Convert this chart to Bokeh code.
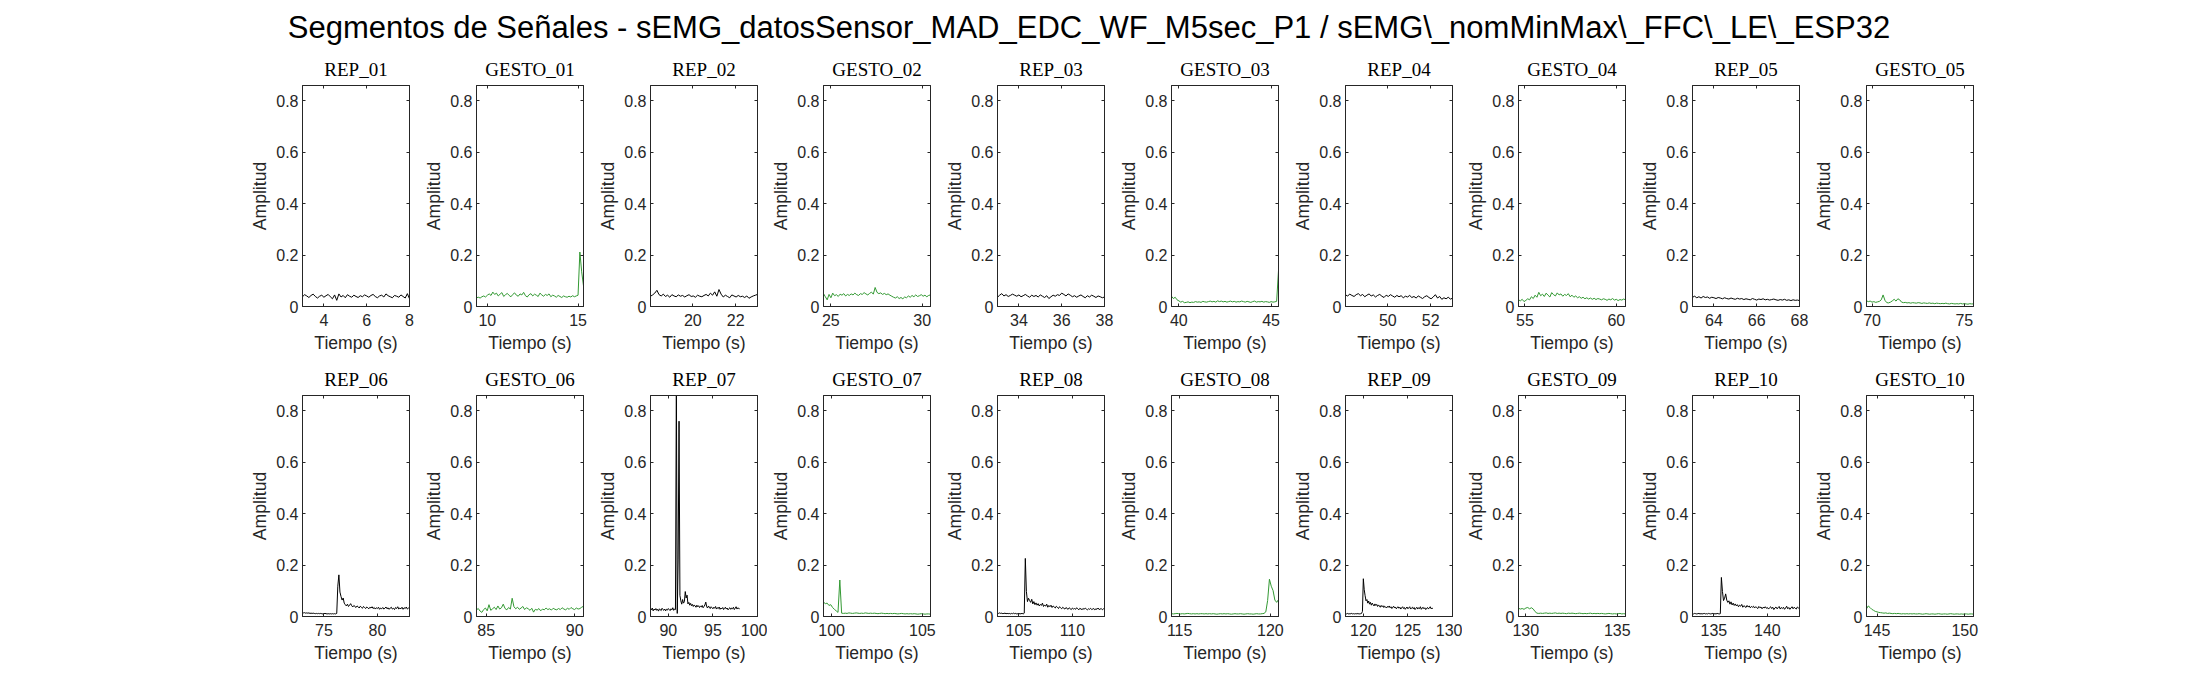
import numpy as np
from bokeh.plotting import figure
from bokeh.layouts import gridplot, column, row
from bokeh.models import (Div, Spacer, Range1d, FixedTicker, LinearAxis,
                          CustomJSTickFormatter)
from bokeh.embed import file_html
from bokeh.resources import INLINE

TITLE = ("Segmentos de Señales - sEMG_datosSensor_MAD_EDC_WF_M5sec_P1 / "
         "sEMG\\_nomMinMax\\_FFC\\_LE\\_ESP32")

# panel order: row 1 then row 2
names = ["REP_01", "GESTO_01", "REP_02", "GESTO_02", "REP_03", "GESTO_03",
         "REP_04", "GESTO_04", "REP_05", "GESTO_05",
         "REP_06", "GESTO_06", "REP_07", "GESTO_07", "REP_08", "GESTO_08",
         "REP_09", "GESTO_09", "REP_10", "GESTO_10"]

x_lo = [3.0, 9.4, 18.02, 24.6, 33.0, 39.6, 48.02, 54.65, 63.0, 69.7,
        73.0, 84.45, 88.0, 99.55, 103.0, 114.55, 118.0, 129.6, 133.0, 144.4]
x_hi = [8.0, 15.3, 23.02, 30.45, 38.0, 45.4, 53.02, 60.5, 68.0, 75.5,
        83.0, 90.5, 100.0, 105.45, 113.0, 120.45, 130.0, 135.45, 143.0, 150.5]

# time span covered by each signal segment (s)
t_start = [3.0, 9.4, 18.02, 24.6, 33.0, 39.6, 48.02, 54.65, 63.0, 69.7,
           73.0, 84.45, 88.0, 99.55, 103.0, 114.55, 118.0, 129.6, 133.0, 144.4]
t_end = [8.0, 15.3, 23.02, 30.45, 38.0, 45.4, 53.02, 60.5, 68.0, 75.5,
         83.0, 90.5, 98.0, 105.45, 113.0, 120.45, 127.8, 135.45, 143.0, 150.5]

x_ticks = [[4, 6, 8], [10, 15], [20, 22], [25, 30], [34, 36, 38], [40, 45],
           [50, 52], [55, 60], [64, 66, 68], [70, 75],
           [75, 80], [85, 90], [90, 95, 100], [100, 105], [105, 110],
           [115, 120], [120, 125, 130], [130, 135], [135, 140], [145, 150]]

y_ticks = [0, 0.2, 0.4, 0.6, 0.8]

rep_01 = [0.038, 0.046, 0.041, 0.035, 0.043, 0.048, 0.039, 0.033, 0.040, 0.044,
          0.036, 0.042, 0.047, 0.038, 0.030, 0.045, 0.024, 0.049, 0.037, 0.043,
          0.034, 0.046, 0.040, 0.036, 0.044, 0.039, 0.035, 0.042, 0.038, 0.045,
          0.041, 0.036, 0.043, 0.047, 0.039, 0.034, 0.041, 0.044, 0.037, 0.049,
          0.042, 0.038, 0.034, 0.043, 0.040, 0.036, 0.045, 0.039, 0.033, 0.050,
          0.030]
gesto_01 = [0.034, 0.036, 0.033, 0.038, 0.041, 0.037, 0.044, 0.049, 0.043, 0.056,
            0.047, 0.052, 0.041, 0.048, 0.054, 0.039, 0.046, 0.051, 0.043, 0.038,
            0.047, 0.053, 0.044, 0.040, 0.049, 0.045, 0.055, 0.042, 0.037, 0.046,
            0.050, 0.041, 0.048, 0.044, 0.039, 0.052, 0.045, 0.040, 0.047, 0.043,
            0.049, 0.038, 0.044, 0.041, 0.036, 0.043, 0.039, 0.035, 0.041, 0.038,
            0.036, 0.040, 0.037, 0.042, 0.038, 0.041, 0.044, 0.212, 0.135, 0.080]
rep_02 = [0.040, 0.045, 0.052, 0.063, 0.046, 0.041, 0.048, 0.039, 0.044, 0.036,
          0.046, 0.041, 0.038, 0.045, 0.040, 0.043, 0.037, 0.042, 0.046, 0.039,
          0.041, 0.036, 0.044, 0.040, 0.038, 0.043, 0.047, 0.041, 0.052, 0.044,
          0.057, 0.040, 0.066, 0.048, 0.037, 0.044, 0.039, 0.034, 0.045, 0.041,
          0.037, 0.043, 0.038, 0.040, 0.035, 0.041, 0.032, 0.037, 0.041, 0.044,
          0.047]
gesto_02 = [0.050, 0.038, 0.026, 0.047, 0.034, 0.052, 0.042, 0.046, 0.039, 0.048,
            0.044, 0.050, 0.041, 0.047, 0.043, 0.049, 0.045, 0.052, 0.046, 0.043,
            0.050, 0.047, 0.054, 0.049, 0.045, 0.051, 0.056, 0.048, 0.074, 0.055,
            0.050, 0.053, 0.047, 0.051, 0.046, 0.049, 0.044, 0.040, 0.036, 0.033,
            0.038, 0.031, 0.035, 0.030, 0.037, 0.034, 0.041, 0.036, 0.043, 0.038,
            0.045, 0.039, 0.042, 0.046, 0.040, 0.044, 0.038, 0.043, 0.045]
rep_03 = [0.036, 0.044, 0.050, 0.041, 0.046, 0.039, 0.043, 0.048, 0.044, 0.040,
          0.045, 0.038, 0.042, 0.047, 0.041, 0.036, 0.044, 0.039, 0.043, 0.037,
          0.045, 0.040, 0.035, 0.042, 0.031, 0.038, 0.044, 0.040, 0.046, 0.043,
          0.052, 0.047, 0.041, 0.049, 0.044, 0.038, 0.042, 0.036, 0.041, 0.045,
          0.039, 0.034, 0.042, 0.037, 0.044, 0.040, 0.035, 0.041, 0.038, 0.034,
          0.037]
gesto_03 = [0.040, 0.031, 0.036, 0.026, 0.022, 0.017, 0.020, 0.015, 0.016, 0.018,
            0.015, 0.017, 0.016, 0.019, 0.017, 0.018, 0.016, 0.020, 0.018, 0.017,
            0.019, 0.021, 0.018, 0.020, 0.017, 0.022, 0.019, 0.021, 0.018, 0.020,
            0.017, 0.019, 0.021, 0.018, 0.020, 0.017, 0.019, 0.018, 0.021, 0.019,
            0.017, 0.020, 0.018, 0.016, 0.019, 0.021, 0.017, 0.019, 0.018, 0.020,
            0.017, 0.019, 0.018, 0.016, 0.019, 0.017, 0.018, 0.020, 0.140]
rep_04 = [0.045, 0.041, 0.048, 0.043, 0.039, 0.046, 0.050, 0.042, 0.047, 0.038,
          0.044, 0.049, 0.041, 0.045, 0.037, 0.043, 0.047, 0.040, 0.035, 0.044,
          0.039, 0.046, 0.041, 0.036, 0.043, 0.038, 0.042, 0.034, 0.040, 0.037,
          0.043, 0.035, 0.039, 0.033, 0.041, 0.036, 0.031, 0.038, 0.042, 0.035,
          0.030, 0.037, 0.046, 0.033, 0.039, 0.028, 0.034, 0.030, 0.036, 0.029,
          0.032]
gesto_04 = [0.026, 0.022, 0.028, 0.019, 0.024, 0.030, 0.026, 0.038, 0.031, 0.044,
            0.036, 0.055, 0.042, 0.048, 0.039, 0.052, 0.044, 0.037, 0.054, 0.046,
            0.041, 0.053, 0.045, 0.049, 0.040, 0.047, 0.043, 0.050, 0.038, 0.044,
            0.036, 0.041, 0.034, 0.038, 0.032, 0.036, 0.030, 0.034, 0.029, 0.033,
            0.028, 0.032, 0.027, 0.031, 0.029, 0.026, 0.030, 0.028, 0.024, 0.029,
            0.026, 0.031, 0.025, 0.028, 0.023, 0.027, 0.025, 0.029, 0.026]
rep_05 = [0.036, 0.040, 0.034, 0.038, 0.033, 0.039, 0.035, 0.037, 0.032, 0.036,
          0.034, 0.031, 0.035, 0.033, 0.030, 0.034, 0.031, 0.029, 0.033, 0.030,
          0.028, 0.032, 0.029, 0.031, 0.027, 0.030, 0.028, 0.026, 0.031, 0.028,
          0.025, 0.029, 0.027, 0.030, 0.026, 0.028, 0.025, 0.027, 0.029, 0.026,
          0.024, 0.027, 0.025, 0.028, 0.024, 0.026, 0.023, 0.026, 0.024, 0.025,
          0.023]
gesto_05 = [0.022, 0.019, 0.021, 0.017, 0.019, 0.016, 0.018, 0.020, 0.026, 0.045,
            0.024, 0.015, 0.014, 0.017, 0.022, 0.028, 0.021, 0.030, 0.026, 0.017,
            0.015, 0.016, 0.014, 0.015, 0.013, 0.015, 0.014, 0.013, 0.015, 0.014,
            0.012, 0.014, 0.013, 0.012, 0.014, 0.012, 0.013, 0.011, 0.013, 0.012,
            0.011, 0.012, 0.011, 0.013, 0.011, 0.010, 0.012, 0.011, 0.010, 0.011,
            0.010, 0.012, 0.010, 0.011, 0.010, 0.009, 0.011, 0.010, 0.010]
rep_06 = [0.015, 0.014, 0.015, 0.013, 0.014, 0.013, 0.014, 0.012, 0.013, 0.012,
          0.013, 0.012, 0.011, 0.012, 0.011, 0.012, 0.011, 0.012, 0.011, 0.010,
          0.011, 0.012, 0.011, 0.010, 0.011, 0.010, 0.011, 0.010, 0.011, 0.010,
          0.011, 0.010, 0.012, 0.118, 0.162, 0.095, 0.078, 0.064, 0.072, 0.052,
          0.046, 0.041, 0.048, 0.039, 0.044, 0.050, 0.042, 0.037, 0.043, 0.039,
          0.035, 0.041, 0.038, 0.033, 0.040, 0.036, 0.032, 0.039, 0.035, 0.031,
          0.037, 0.034, 0.030, 0.036, 0.033, 0.038, 0.031, 0.035, 0.029, 0.034,
          0.031, 0.036, 0.028, 0.033, 0.030, 0.035, 0.029, 0.032, 0.037, 0.030,
          0.034, 0.028, 0.033, 0.036, 0.029, 0.032, 0.027, 0.035, 0.031, 0.038,
          0.029, 0.033, 0.030, 0.036, 0.028, 0.034, 0.031, 0.037, 0.029, 0.033,
          0.030]
gesto_06 = [0.026, 0.031, 0.021, 0.016, 0.027, 0.033, 0.022, 0.046, 0.024, 0.030,
            0.036, 0.027, 0.041, 0.029, 0.034, 0.048, 0.031, 0.026, 0.035, 0.029,
            0.071, 0.038, 0.030, 0.036, 0.028, 0.033, 0.039, 0.027, 0.034, 0.030,
            0.024, 0.032, 0.017, 0.028, 0.025, 0.031, 0.022, 0.029, 0.026, 0.033,
            0.027, 0.030, 0.025, 0.032, 0.028, 0.026, 0.031, 0.027, 0.034, 0.029,
            0.026, 0.032, 0.028, 0.035, 0.030, 0.027, 0.033, 0.029, 0.031, 0.036,
            0.040]
rep_07 = [0.030, 0.026, 0.033, 0.022, 0.029, 0.025, 0.031, 0.024, 0.028, 0.021,
          0.030, 0.026, 0.023, 0.032, 0.027, 0.024, 0.029, 0.022, 0.028, 0.025,
          0.031, 0.027, 0.023, 0.030, 0.026, 0.034, 0.024, 0.029, 0.027, 0.920,
          0.012, 0.220, 0.760, 0.082, 0.061, 0.048, 0.066, 0.052, 0.058, 0.097,
          0.072, 0.083, 0.049, 0.055, 0.044, 0.051, 0.042, 0.047, 0.039, 0.045,
          0.041, 0.036, 0.044, 0.038, 0.042, 0.035, 0.040, 0.037, 0.043, 0.034,
          0.039, 0.045, 0.056, 0.038, 0.033, 0.041, 0.036, 0.031, 0.038, 0.034,
          0.030, 0.036, 0.032, 0.039, 0.029, 0.034, 0.031, 0.037, 0.028, 0.033,
          0.030, 0.035, 0.027, 0.032, 0.036, 0.029, 0.033, 0.026, 0.031, 0.034,
          0.028, 0.033, 0.030, 0.036, 0.027, 0.032, 0.038, 0.029, 0.034, 0.031,
          0.030]
gesto_07 = [0.056, 0.050, 0.052, 0.043, 0.046, 0.035, 0.028, 0.022, 0.016, 0.142,
            0.013, 0.012, 0.013, 0.012, 0.014, 0.013, 0.012, 0.013, 0.014, 0.013,
            0.012, 0.013, 0.012, 0.014, 0.013, 0.012, 0.013, 0.012, 0.013, 0.012,
            0.011, 0.012, 0.013, 0.012, 0.011, 0.012, 0.011, 0.012, 0.011, 0.012,
            0.011, 0.010, 0.011, 0.012, 0.011, 0.010, 0.011, 0.010, 0.011, 0.010,
            0.011, 0.010, 0.009, 0.010, 0.011, 0.010, 0.009, 0.010, 0.010, 0.009]
rep_08 = [0.013, 0.012, 0.014, 0.012, 0.013, 0.011, 0.012, 0.013, 0.011, 0.012,
          0.011, 0.012, 0.010, 0.012, 0.011, 0.013, 0.011, 0.012, 0.010, 0.011,
          0.012, 0.010, 0.011, 0.012, 0.010, 0.013, 0.226, 0.098, 0.058, 0.071,
          0.062, 0.055, 0.067, 0.049, 0.058, 0.046, 0.053, 0.044, 0.050, 0.041,
          0.047, 0.043, 0.052, 0.039, 0.045, 0.040, 0.048, 0.036, 0.043, 0.038,
          0.044, 0.035, 0.041, 0.037, 0.033, 0.040, 0.036, 0.031, 0.038, 0.034,
          0.030, 0.036, 0.032, 0.029, 0.035, 0.031, 0.028, 0.034, 0.030, 0.027,
          0.033, 0.029, 0.031, 0.028, 0.034, 0.030, 0.026, 0.032, 0.029, 0.027,
          0.031, 0.028, 0.033, 0.029, 0.026, 0.030, 0.028, 0.032, 0.027, 0.029,
          0.031, 0.026, 0.030, 0.028, 0.033, 0.027, 0.029, 0.031, 0.026, 0.030,
          0.029]
gesto_08 = [0.011, 0.010, 0.011, 0.012, 0.011, 0.010, 0.011, 0.010, 0.011, 0.012,
            0.011, 0.010, 0.011, 0.010, 0.011, 0.010, 0.011, 0.011, 0.010, 0.011,
            0.010, 0.011, 0.010, 0.011, 0.010, 0.009, 0.010, 0.011, 0.010, 0.011,
            0.010, 0.011, 0.010, 0.009, 0.010, 0.011, 0.010, 0.010, 0.011, 0.010,
            0.009, 0.010, 0.011, 0.010, 0.010, 0.009, 0.010, 0.011, 0.010, 0.010,
            0.011, 0.012, 0.018, 0.062, 0.145, 0.118, 0.101, 0.064, 0.055, 0.066]
rep_09 = [0.011, 0.010, 0.012, 0.010, 0.011, 0.010, 0.011, 0.012, 0.010, 0.011,
          0.010, 0.011, 0.010, 0.012, 0.010, 0.011, 0.010, 0.011, 0.012, 0.020,
          0.147, 0.104, 0.081, 0.061, 0.066, 0.052, 0.060, 0.048, 0.055, 0.044,
          0.052, 0.046, 0.041, 0.049, 0.043, 0.047, 0.039, 0.045, 0.041, 0.036,
          0.043, 0.038, 0.042, 0.035, 0.040, 0.037, 0.033, 0.039, 0.036, 0.041,
          0.034, 0.038, 0.031, 0.036, 0.040, 0.033, 0.037, 0.030, 0.035, 0.038,
          0.032, 0.036, 0.029, 0.034, 0.038, 0.031, 0.035, 0.028, 0.033, 0.037,
          0.030, 0.034, 0.038, 0.029, 0.033, 0.036, 0.030, 0.035, 0.027, 0.032,
          0.036, 0.029, 0.034, 0.031, 0.038, 0.028, 0.033, 0.036, 0.030, 0.034,
          0.027, 0.032, 0.035, 0.029, 0.034, 0.038, 0.030, 0.033, 0.031]
gesto_09 = [0.032, 0.029, 0.031, 0.028, 0.033, 0.035, 0.030, 0.034, 0.029, 0.019,
            0.013, 0.012, 0.013, 0.012, 0.013, 0.014, 0.012, 0.013, 0.012, 0.013,
            0.014, 0.012, 0.013, 0.012, 0.013, 0.012, 0.011, 0.013, 0.012, 0.013,
            0.012, 0.011, 0.012, 0.013, 0.012, 0.011, 0.012, 0.011, 0.012, 0.013,
            0.011, 0.012, 0.011, 0.012, 0.011, 0.012, 0.011, 0.010, 0.011, 0.012,
            0.011, 0.010, 0.011, 0.010, 0.011, 0.012, 0.010, 0.011, 0.010]
rep_10 = [0.011, 0.010, 0.012, 0.011, 0.010, 0.011, 0.012, 0.010, 0.011, 0.010,
          0.011, 0.012, 0.010, 0.011, 0.010, 0.012, 0.011, 0.010, 0.011, 0.012,
          0.010, 0.011, 0.010, 0.012, 0.011, 0.010, 0.011, 0.152, 0.097, 0.062,
          0.071, 0.088, 0.064, 0.055, 0.061, 0.048, 0.057, 0.045, 0.052, 0.043,
          0.049, 0.041, 0.046, 0.038, 0.044, 0.040, 0.047, 0.036, 0.042, 0.039,
          0.035, 0.043, 0.037, 0.041, 0.034, 0.039, 0.036, 0.040, 0.033, 0.038,
          0.035, 0.031, 0.039, 0.034, 0.037, 0.030, 0.036, 0.033, 0.038, 0.032,
          0.035, 0.029, 0.034, 0.038, 0.031, 0.036, 0.027, 0.033, 0.037, 0.030,
          0.034, 0.039, 0.029, 0.035, 0.031, 0.036, 0.028, 0.033, 0.040, 0.030,
          0.035, 0.028, 0.033, 0.038, 0.030, 0.036, 0.032, 0.029, 0.037, 0.033,
          0.036]
gesto_10 = [0.030, 0.041, 0.035, 0.028, 0.024, 0.020, 0.018, 0.016, 0.015, 0.014,
            0.013, 0.014, 0.012, 0.013, 0.012, 0.011, 0.012, 0.011, 0.012, 0.011,
            0.010, 0.011, 0.010, 0.011, 0.010, 0.011, 0.010, 0.011, 0.010, 0.010,
            0.011, 0.010, 0.009, 0.010, 0.011, 0.010, 0.009, 0.010, 0.010, 0.009,
            0.010, 0.011, 0.010, 0.009, 0.010, 0.010, 0.009, 0.010, 0.011, 0.010,
            0.009, 0.010, 0.010, 0.009, 0.010, 0.009, 0.010, 0.010, 0.009, 0.010,
            0.010, 0.009]

signals = [rep_01, gesto_01, rep_02, gesto_02, rep_03, gesto_03, rep_04, gesto_04,
           rep_05, gesto_05, rep_06, gesto_06, rep_07, gesto_07, rep_08, gesto_08,
           rep_09, gesto_09, rep_10, gesto_10]

AX_COLOR = "#262626"
GREEN = "#339933"
SANS = "Liberation Sans"

# right border per column, so that the 10 columns repeat every ~173.7 px
right_border = [11, 11, 10, 11, 11, 11, 10, 11, 11, 11]


def style_axis(ax, show_labels):
    ax.axis_line_color = AX_COLOR
    ax.major_tick_line_color = AX_COLOR
    ax.major_tick_in = 3
    ax.major_tick_out = 0
    ax.minor_tick_line_color = None
    ax.major_label_text_color = AX_COLOR
    ax.major_label_text_font = SANS
    if show_labels:
        ax.major_label_text_font_size = "16px"
    else:
        ax.major_label_text_font_size = "0px"
        ax.major_label_standoff = 0
        ax.formatter = CustomJSTickFormatter(code="return '';")


plots = []
for i, name in enumerate(names):
    p = figure(frame_width=107, frame_height=221,
               x_range=Range1d(x_lo[i], x_hi[i]), y_range=Range1d(0, 0.86),
               tools="", toolbar_location=None, output_backend="svg",
               min_border_left=56, min_border_right=right_border[i % 10],
               min_border_top=36, min_border_bottom=53, title=name)
    p.background_fill_color = "white"
    p.border_fill_color = "white"
    p.outline_line_color = AX_COLOR
    p.outline_line_alpha = 1.0
    p.grid.visible = False

    p.title.text_font = "Liberation Serif"
    p.title.text_font_size = "19px"
    p.title.text_font_style = "normal"
    p.title.text_color = "black"
    p.title.align = "center"
    p.title.standoff = 11

    y = signals[i]
    t = np.linspace(t_start[i], t_end[i], len(y))
    color = "black" if name.startswith("REP") else GREEN
    p.line(t, y, line_color=color, line_width=1)

    xt = FixedTicker(ticks=x_ticks[i])
    yt = FixedTicker(ticks=y_ticks)

    p.xaxis.ticker = xt
    p.xaxis.axis_label = "Tiempo (s)"
    p.xaxis.major_label_standoff = 7
    p.xaxis.axis_label_standoff = 4
    p.yaxis.ticker = yt
    p.yaxis.axis_label = "Amplitud"
    p.yaxis.major_label_standoff = 4
    p.yaxis.axis_label_standoff = 3
    p.yaxis.formatter = CustomJSTickFormatter(
        code="return tick == 0 ? '0' : tick.toFixed(1);")
    for ax in (p.xaxis[0], p.yaxis[0]):
        style_axis(ax, True)
        ax.axis_label_text_font = SANS
        ax.axis_label_text_font_size = "17.6px"
        ax.axis_label_text_font_style = "normal"
        ax.axis_label_text_color = AX_COLOR

    right = LinearAxis(ticker=yt)
    style_axis(right, False)
    p.add_layout(right, "right")
    top = LinearAxis(ticker=xt)
    style_axis(top, False)
    p.add_layout(top, "above")

    plots.append(p)

grid = gridplot([plots[:10], plots[10:]], toolbar_location=None)

title = Div(text=TITLE, width=2168, height=39,
            styles={"text-align": "center", "font-family": SANS,
                    "font-size": "31px", "color": "black",
                    "line-height": "36px", "padding-top": "5px"})

layout = column(title, row(Spacer(width=246, height=620), grid))

open("out.html", "w").write(file_html(layout, INLINE))
